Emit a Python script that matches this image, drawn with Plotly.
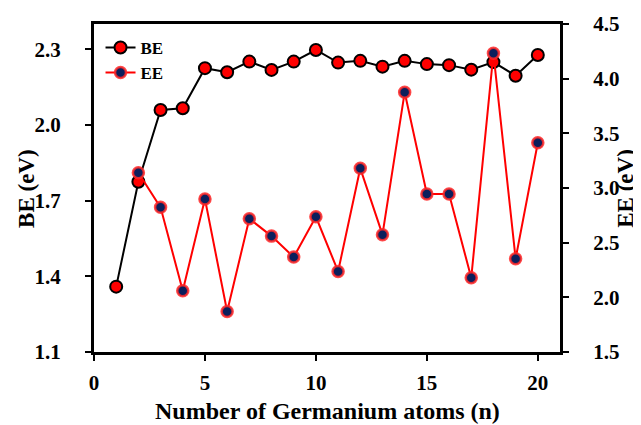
import plotly.graph_objects as go

n_be = [1, 2, 3, 4, 5, 6, 7, 8, 9, 10, 11, 12, 13, 14, 15, 16, 17, 18, 19, 20]
be = [1.359, 1.775, 2.059, 2.066, 2.225, 2.209, 2.251, 2.218, 2.251, 2.297,
      2.247, 2.254, 2.231, 2.254, 2.241, 2.237, 2.219, 2.249, 2.195, 2.277]
n_ee = [2, 3, 4, 5, 6, 7, 8, 9, 10, 11, 12, 13, 14, 15, 16, 17, 18, 19, 20]
ee = [3.14, 2.823, 2.06, 2.899, 1.871, 2.719, 2.56, 2.368, 2.737, 2.237,
      3.18, 2.573, 3.875, 2.945, 2.945, 2.179, 4.232, 2.353, 3.414]

x_ticks = [0, 5, 10, 15, 20]
be_ticks = [1.1, 1.4, 1.7, 2.0, 2.3]
ee_ticks = [1.5, 2.0, 2.5, 3.0, 3.5, 4.0, 4.5]

FONT = "Liberation Serif"

fig = go.Figure()
fig.add_trace(go.Scatter(
    x=n_be, y=be, name="<b>BE</b>", mode="lines+markers",
    line=dict(color="black", width=2),
    marker=dict(color="red", size=12, line=dict(color="black", width=2)),
    yaxis="y"))
fig.add_trace(go.Scatter(
    x=n_ee, y=ee, name="<b>EE</b>", mode="lines+markers",
    line=dict(color="red", width=2),
    marker=dict(color="#0b1f5c", size=11, line=dict(color="rgba(255,40,40,0.85)", width=2.5)),
    yaxis="y2"))

tickfont = dict(family=FONT, size=21, color="black", weight="bold")
axis_common = dict(
    showline=True, linecolor="black", linewidth=3,
    ticks="outside", ticklen=6, tickwidth=2, tickcolor="black",
    showgrid=False, zeroline=False, automargin=False,
    tickfont=tickfont,
)

# page body has an 8px margin, so the figure is sized to end at the window edge
fig.update_layout(
    width=633, height=417,
    margin=dict(l=86, r=81, t=16, b=73),
    paper_bgcolor="white", plot_bgcolor="white",
    font=dict(family=FONT, color="black"),
    showlegend=True,
    legend=dict(x=0.014, y=0.982, xanchor="left", yanchor="top",
                bgcolor="rgba(0,0,0,0)", font=dict(family=FONT, size=17, color="black"),
                tracegroupgap=0, itemwidth=30),
    xaxis=dict(range=[0, 21], tickvals=x_ticks, mirror=True, ticklabelstandoff=4,
               **axis_common),
    yaxis=dict(range=[1.1, 2.4], tickvals=be_ticks, tickformat=".1f", ticklabelstandoff=20,
               **axis_common),
    yaxis2=dict(range=[1.5, 4.5], tickvals=ee_ticks, tickformat=".1f",
                overlaying="y", side="right", ticklabelstandoff=20,
                **axis_common),
    annotations=[
        dict(text="<b>Number of Germanium atoms (n)</b>", xref="paper", yref="paper",
             x=0.5, y=-0.18, xanchor="center", yanchor="middle", showarrow=False,
             font=dict(family=FONT, size=24, color="black")),
        dict(text="<b>BE (eV)</b>", xref="paper", yref="paper", textangle=-90,
             x=-0.146, y=0.5, xanchor="center", yanchor="middle", showarrow=False,
             font=dict(family=FONT, size=23, color="black")),
        dict(text="<b>EE (eV)</b>", xref="paper", yref="paper", textangle=-90,
             x=1.139, y=0.5, xanchor="center", yanchor="middle", showarrow=False,
             font=dict(family=FONT, size=23, color="black")),
    ],
)

fig.write_html("out.html")
